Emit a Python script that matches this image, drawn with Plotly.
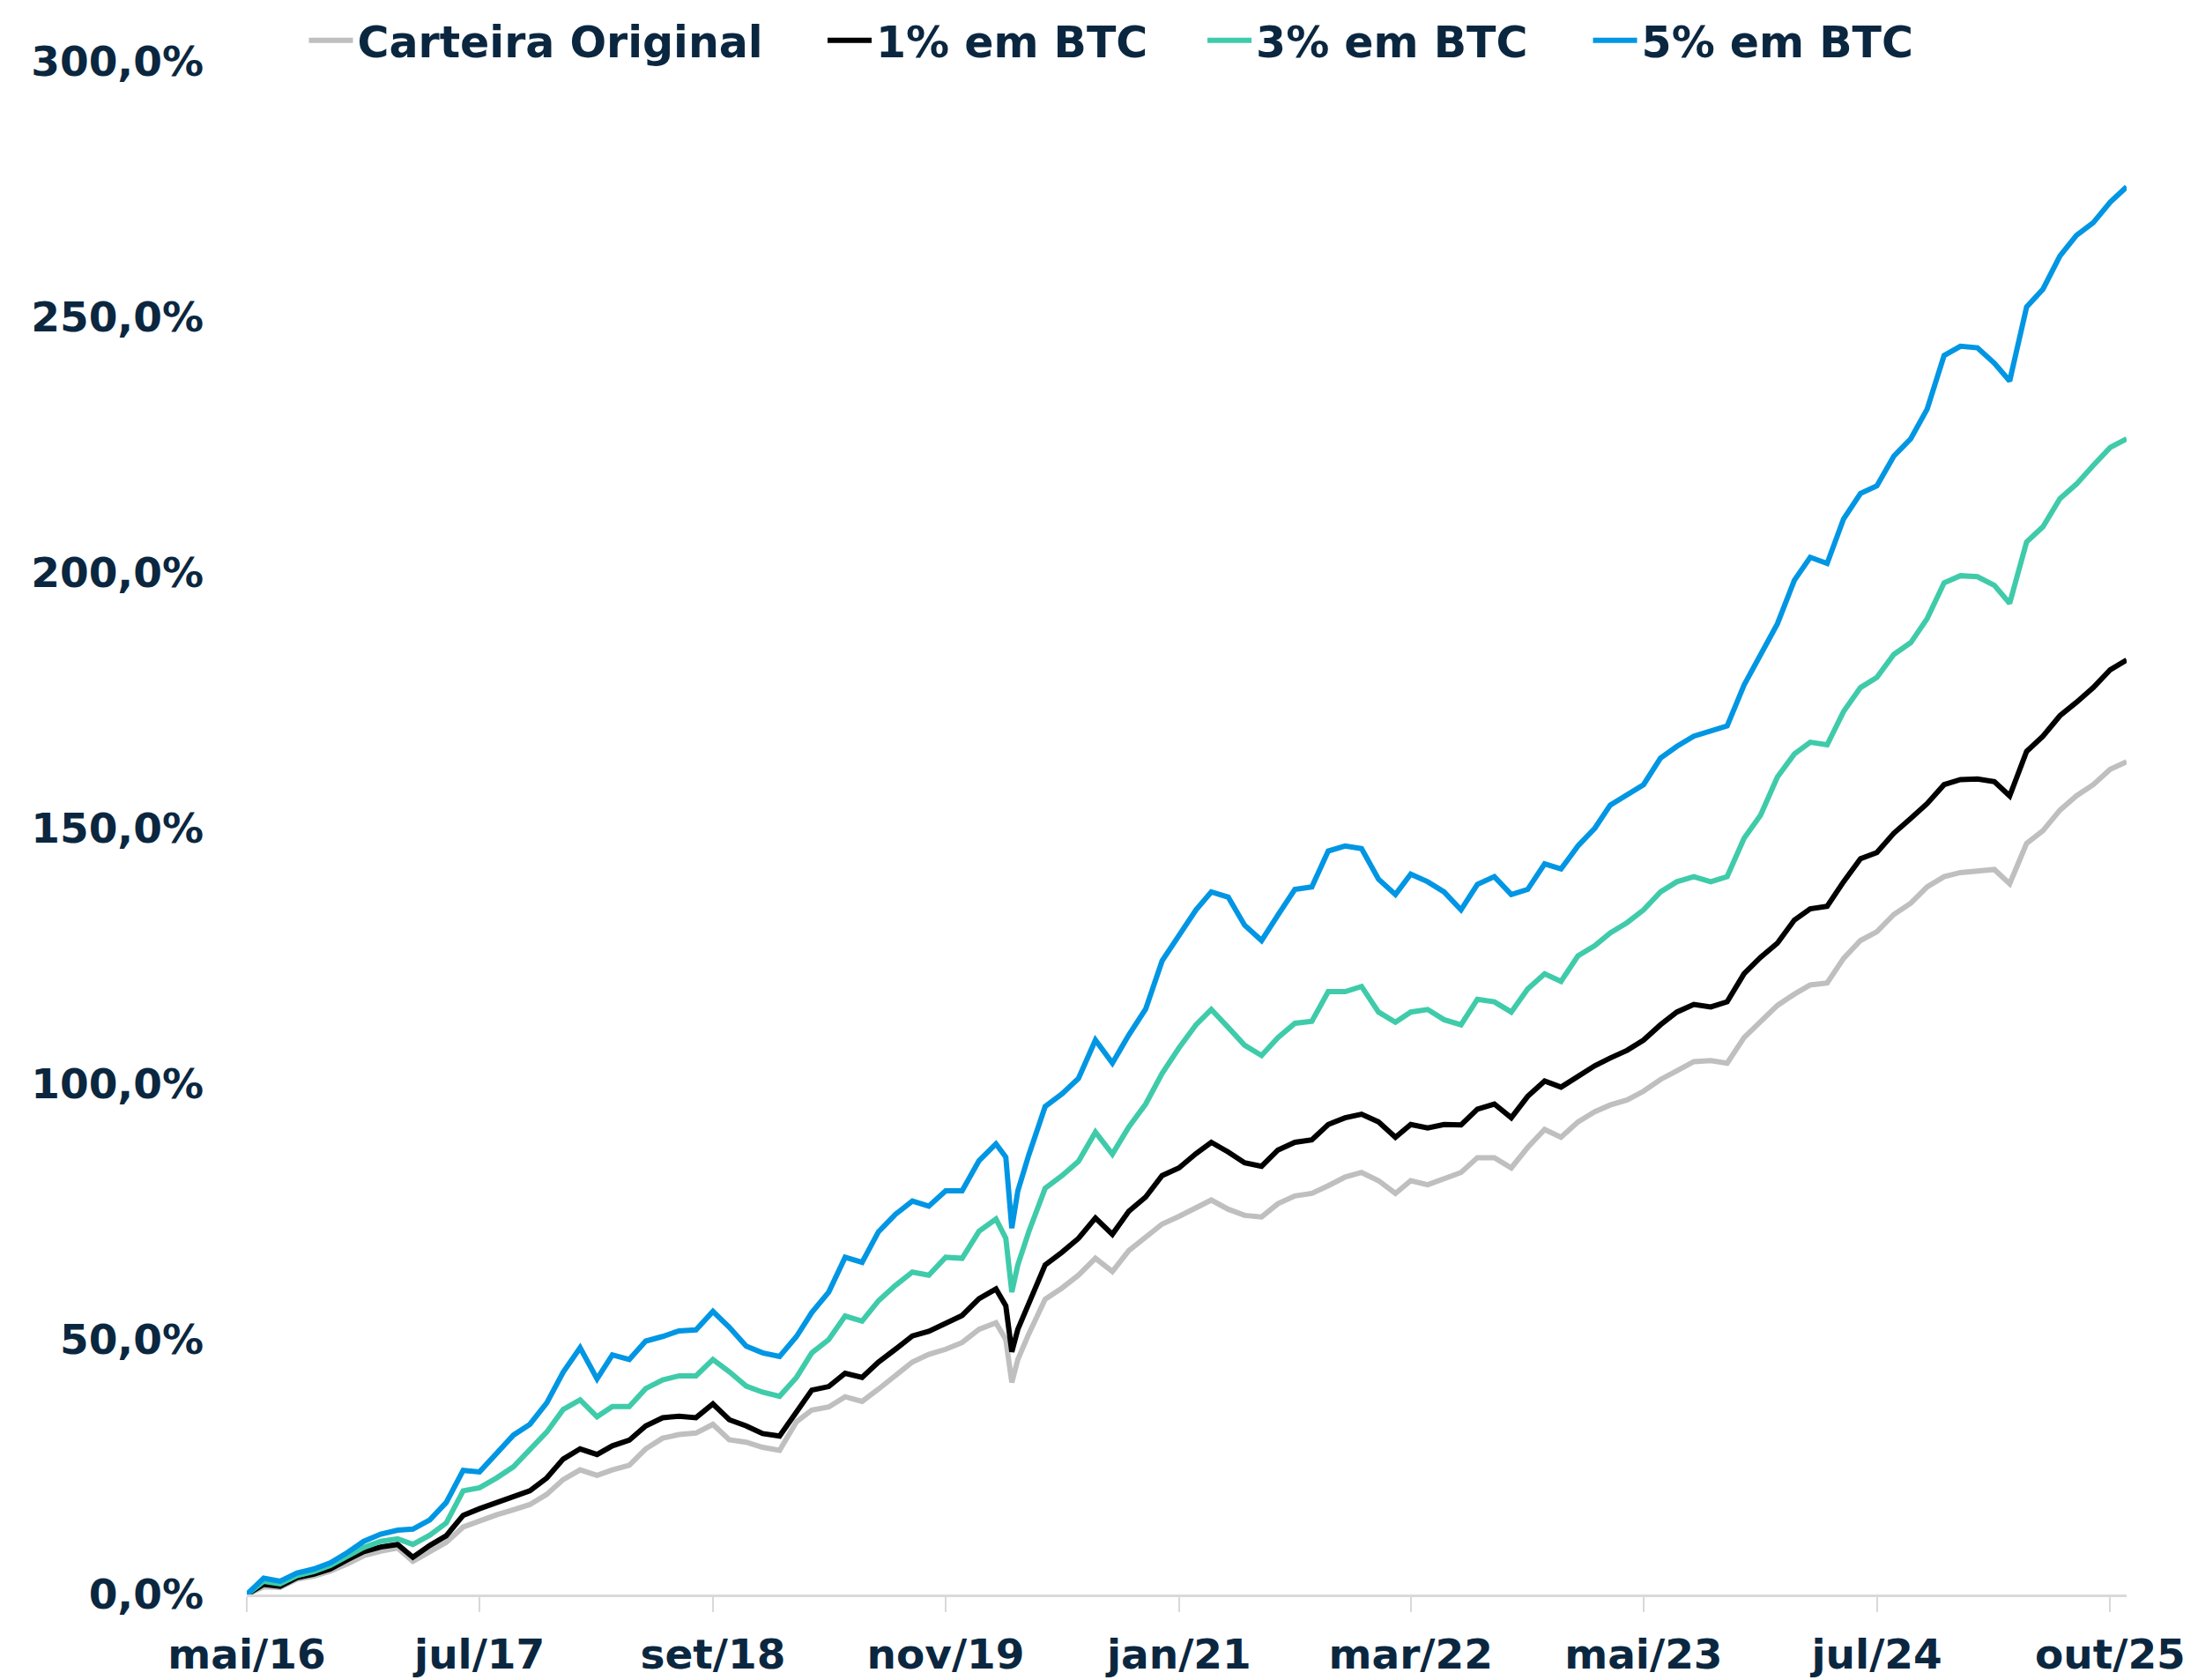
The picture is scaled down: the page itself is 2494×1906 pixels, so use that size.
import plotly.graph_objects as go
import pandas as pd

# ---- data (monthly readings + two extra points around the March-2020 crash) ----
dates = sorted(list(pd.date_range("2016-05-01", "2025-10-01", freq="MS"))
               + [pd.Timestamp("2020-02-19"), pd.Timestamp("2020-03-12")])

carteira = [0, 1.5, 1.4, 3.0, 3.6, 4.6, 6.0, 7.6, 8.5, 9.1,
            6.5, 8.5, 10.2, 13.2, 14.5, 15.6, 16.6, 17.6, 19.6, 22.5,
            24.4, 23.3, 24.4, 25.3, 28.5, 30.6, 31.3, 31.6, 33.3, 30.3,
            29.8, 28.8, 28.2, 33.8, 36.1, 36.7, 38.7, 37.8, 40.2, 42.7,
            45.5, 47.0, 48.0, 49.3, 51.9, 53.2, 49.9, 41.5, 46.0, 51.0,
            57.8, 60.0, 62.5, 65.8, 63.2, 67.3, 70.0, 72.5, 74.0, 75.8,
            77.2, 75.4, 74.2, 73.9, 76.5, 78.0, 78.5, 80.0, 81.7, 82.6,
            81.0, 78.5, 81.0, 80.2, 81.5, 82.6, 85.5, 85.5, 83.5, 87.5,
            91.0, 89.5, 92.5, 94.5, 95.8, 96.8, 98.5, 100.8, 102.5, 104.3,
            104.5, 104.0, 109.0, 112.0, 115.3, 117.5, 119.3, 119.7, 124.5, 128.0,
            129.7, 133.1, 135.3, 138.5, 140.5, 141.3, 141.6, 141.9, 139.1, 147.0,
            149.5, 153.5, 156.3, 158.5, 161.5, 163.0]

btc1 = [0, 2.0, 1.6, 3.3, 4.0, 5.0, 6.8, 8.4, 9.3, 9.8,
        7.3, 9.6, 11.5, 15.5, 16.8, 17.9, 19.2, 20.3, 22.8, 26.5,
        28.5, 27.4, 29.1, 30.2, 33.0, 34.6, 34.9, 34.6, 37.3, 34.2,
        33.0, 31.5, 31.0, 35.8, 40.0, 40.7, 43.3, 42.5, 45.5, 48.0,
        50.6, 51.5, 53.2, 54.6, 57.9, 59.8, 56.5, 47.5, 51.9, 57.0,
        64.5, 67.0, 69.7, 73.7, 70.5, 75.0, 77.8, 82.0, 83.5, 86.3,
        88.5, 86.6, 84.5, 83.8, 87.0, 88.5, 89.0, 92.0, 93.3, 94.0,
        92.5, 89.5, 92.0, 91.3, 92.0, 91.9, 95.0, 96.0, 93.3, 97.5,
        100.5, 99.3, 101.5, 103.5, 105.0, 106.5, 108.5, 111.5, 114.0, 115.5,
        115.0, 116.0, 121.5, 124.7, 127.5, 132.0, 134.2, 134.7, 139.5, 144.0,
        145.2, 149.0, 151.9, 154.8, 158.5, 159.5, 159.6, 159.1, 156.3, 165.0,
        168.0, 172.0, 174.6, 177.5, 181.0, 182.9]

btc3 = [0, 2.6, 2.1, 3.7, 4.5, 5.7, 7.5, 9.2, 10.4, 10.9,
        9.8, 11.6, 14.0, 20.3, 20.9, 22.8, 25.0, 28.2, 31.8, 36.2,
        38.1, 34.8, 36.8, 36.8, 40.3, 42.0, 42.8, 42.8, 46.0, 43.6,
        40.8, 39.6, 38.8, 42.5, 47.3, 49.9, 54.5, 53.5, 57.5, 60.5,
        63.1, 62.5, 66.0, 65.8, 71.1, 73.5, 69.7, 59.2, 64.5, 71.0,
        79.5, 82.0, 84.8, 90.5, 86.2, 91.5, 96.0, 102.0, 107.0, 111.5,
        114.5, 111.0, 107.5, 105.5, 109.0, 111.8, 112.2, 118.0, 118.0, 119.0,
        114.0, 112.0, 114.0, 114.5, 112.5, 111.5, 116.5, 116.0, 114.0, 118.5,
        121.5, 120.0, 125.0, 127.0, 129.5, 131.5, 134.0, 137.5, 139.5, 140.5,
        139.5, 140.5, 148.0, 152.5, 160.0, 164.5, 166.8, 166.3, 172.8, 177.5,
        179.5, 184.0, 186.3, 191.0, 198.0, 199.4, 199.2, 197.5, 194.0, 206.0,
        209.0, 214.5, 217.3, 221.0, 224.5, 226.2]

btc5 = [0, 3.2, 2.6, 4.2, 5.0, 6.2, 8.2, 10.4, 11.8, 12.6,
        12.8, 14.6, 18.0, 24.3, 24.0, 27.5, 31.2, 33.3, 37.5, 43.5,
        48.3, 42.2, 46.9, 46.0, 49.6, 50.5, 51.6, 51.8, 55.4, 52.3,
        48.6, 47.3, 46.6, 50.5, 55.2, 59.2, 66.0, 65.0, 71.0, 74.4,
        77.0, 76.0, 79.0, 79.0, 84.9, 88.2, 85.6, 71.7, 79.0, 86.0,
        95.5, 98.0, 101.0, 108.5, 104.0, 109.5, 114.6, 124.0, 129.0, 134.0,
        137.5, 136.5, 131.0, 128.0, 133.0, 138.0, 138.5, 145.5, 146.5, 146.0,
        140.0, 137.0, 141.0, 139.5, 137.5, 134.0, 139.0, 140.5, 137.0, 138.0,
        143.0, 142.0, 146.5, 150.0, 154.5, 156.5, 158.5, 163.7, 166.0, 168.0,
        169.0, 170.0, 178.0, 184.0, 190.0, 198.5, 203.0, 201.8, 210.5, 215.5,
        217.0, 222.8, 226.2, 232.0, 242.5, 244.3, 244.0, 241.0, 237.5, 252.0,
        255.5, 262.0, 266.0, 268.5, 272.5, 275.5]

series_names = ["Carteira Original", "1% em BTC", "3% em BTC", "5% em BTC"]
series_colors = ["#BFBFBF", "#000000", "#3FCBA9", "#0096E3"]

tick_dates = ["2016-05-01", "2017-07-01", "2018-09-01", "2019-11-01", "2021-01-01",
              "2022-03-01", "2023-05-01", "2024-07-01", "2025-09-01"]
tick_labels = ["mai/16", "jul/17", "set/18", "nov/19", "jan/21",
               "mar/22", "mai/23", "jul/24", "out/25"]
y_ticks = [0, 50, 100, 150, 200, 250, 300]
y_tick_labels = ["0,0%", "50,0%", "100,0%", "150,0%", "200,0%", "250,0%", "300,0%"]

for s in (carteira, btc1, btc3, btc5):
    assert len(s) == len(dates), (len(s), len(dates))

NAVY = "#0B2740"
TICK_FONT = dict(family="DejaVu Sans", size=47, color=NAVY, weight="bold")
LEG_FONT = dict(family="DejaVu Sans", size=49, color=NAVY, weight="bold")

fig = go.Figure()
legend_ids = ["legend", "legend2", "legend3", "legend4"]
for vals, name, col, lg in zip((carteira, btc1, btc3, btc5), series_names, series_colors, legend_ids):
    fig.add_trace(go.Scatter(x=dates, y=vals, mode="lines", name=name,
                             line=dict(color=col, width=6), legend=lg))

leg_x = [0.0307, 0.3066, 0.5087, 0.7138]
leg_common = dict(orientation="h", yanchor="middle", y=1.0138, xanchor="left",
                  font=LEG_FONT, itemwidth=50, bgcolor="rgba(0,0,0,0)")
layout_legends = {lg: dict(x=x, **leg_common) for lg, x in zip(legend_ids, leg_x)}

fig.update_layout(
    width=2478, height=1898,
    margin=dict(l=272, r=73, t=62, b=97, autoexpand=False),
    paper_bgcolor="white", plot_bgcolor="white",
    font=TICK_FONT,
    showlegend=True,
    **layout_legends,
)
fig.update_xaxes(
    range=[dates[0], dates[-1]],
    tickvals=tick_dates, ticktext=tick_labels,
    showgrid=False, zeroline=False,
    showline=True, linecolor="#D9D9D9", linewidth=3,
    ticks="outside", ticklen=17, tickwidth=2, tickcolor="#D9D9D9",
    tickfont=TICK_FONT, ticklabelstandoff=8, automargin=False,
)
fig.update_yaxes(
    range=[0, 300], tickvals=y_ticks, ticktext=y_tick_labels,
    showgrid=False, zeroline=False, showline=False, ticks="",
    tickfont=TICK_FONT, ticklabelstandoff=48, automargin=False,
)

fig.write_html("out.html")
